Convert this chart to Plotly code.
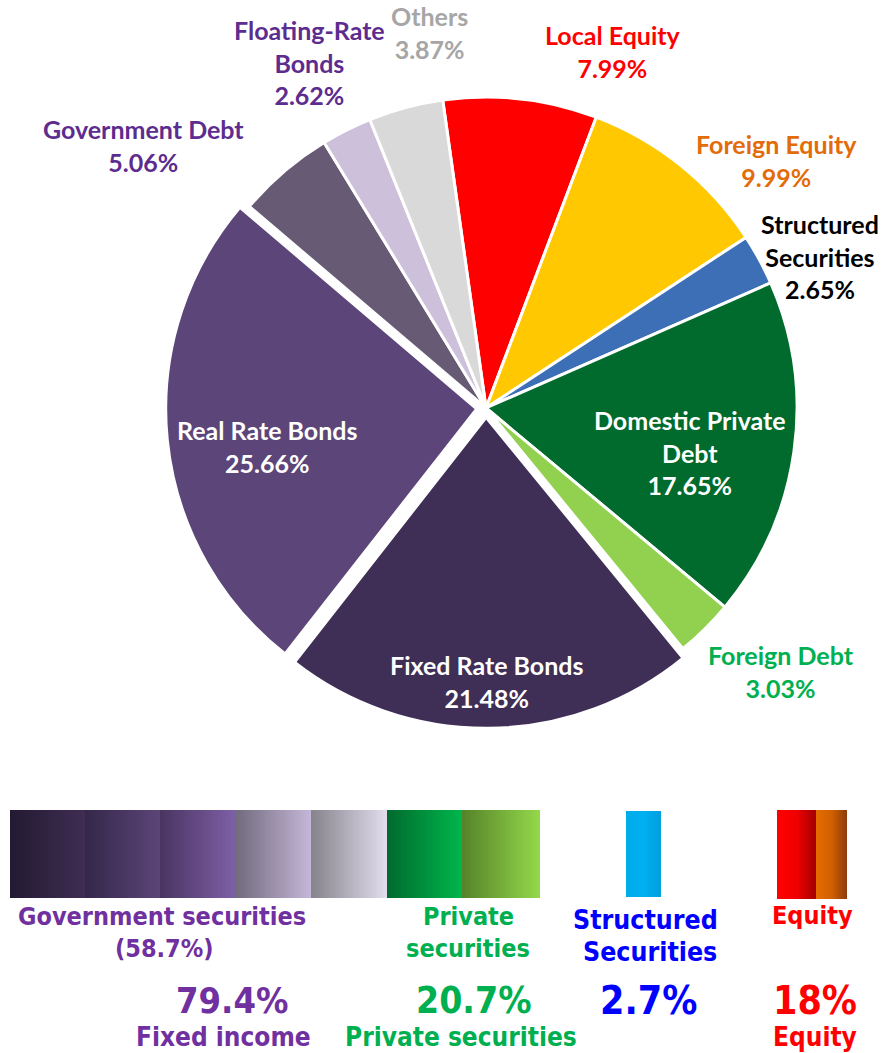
from decimal import Decimal, ROUND_HALF_UP

import numpy as np
import plotly.graph_objects as go

# Portfolio allocation by asset class (percent), clockwise from the top
labels = ["Local Equity", "Foreign Equity", "Structured Securities", "Domestic Private Debt",
          "Foreign Debt", "Fixed Rate Bonds", "Real Rate Bonds", "Government Debt",
          "Floating-Rate Bonds", "Others"]
values = [7.99, 9.99, 2.65, 17.65, 3.03, 21.48, 25.66, 5.06, 2.62, 3.87]

# Label text as drawn (line breaks) for each slice
label_lines = {
    "Local Equity": "Local Equity",
    "Foreign Equity": "Foreign Equity",
    "Structured Securities": "Structured<br>Securities",
    "Domestic Private Debt": "Domestic Private<br>Debt",
    "Foreign Debt": "Foreign Debt",
    "Fixed Rate Bonds": "Fixed Rate Bonds",
    "Real Rate Bonds": "Real Rate Bonds",
    "Government Debt": "Government Debt",
    "Floating-Rate Bonds": "Floating-Rate<br>Bonds",
    "Others": "Others",
}

# Asset-class groupings used for the summary block
groups = {
    "government": ["Fixed Rate Bonds", "Real Rate Bonds", "Government Debt", "Floating-Rate Bonds", "Others"],
    "private": ["Domestic Private Debt", "Foreign Debt"],
    "structured": ["Structured Securities"],
    "equity": ["Local Equity", "Foreign Equity"],
}

W, H = 883, 1053

slice_colors = ["#ff0000", "#ffc800", "#3d6fb6", "#006b2d", "#92d050",
                "#3f2e55", "#5c4679", "#675a74", "#ccc0da", "#d9d9d9"]
pulls = [0, 0, 0, 0, 0, 0.03, 0.03, 0, 0, 0]

LABEL_PURPLE = "#5c2d8f"
# Label placement (pixel centre of first line) and colour for each slice
label_style = {
    "Local Equity": (613, 35, "#ff0000"),
    "Foreign Equity": (776, 143, "#e36c0a"),
    "Structured Securities": (820, 223, "#000000"),
    "Domestic Private Debt": (690, 419, "#ffffff"),
    "Foreign Debt": (781, 654, "#00b050"),
    "Fixed Rate Bonds": (487, 664, "#ffffff"),
    "Real Rate Bonds": (267, 429, "#ffffff"),
    "Government Debt": (143, 129, LABEL_PURPLE),
    "Floating-Rate Bonds": (309, 29, LABEL_PURPLE),
    "Others": (429, 15, "#a6a6a6"),
}

cx, cy, r = 486, 408, 311
half = r * (1 + max(pulls))

fig = go.Figure()
fig.add_trace(go.Pie(
    labels=labels, values=values, sort=False, direction="clockwise", rotation=-8,
    pull=pulls, textinfo="none", hoverinfo="label+percent",
    marker=dict(colors=slice_colors, line=dict(color="white", width=3)),
    domain=dict(x=[(cx - half) / W, (cx + half) / W],
                y=[1 - (cy + half) / H, 1 - (cy - half) / H]),
    showlegend=False,
))

LINE = 33
pie_font = "Lato, 'Open Sans', sans-serif"
for name, val in zip(labels, values):
    x, y, col = label_style[name]
    txt = f"<b>{label_lines[name]}<br>{val:.2f}%</b>"
    fig.add_annotation(x=x / W, y=1 - (y - LINE / 2) / H, xref="paper", yref="paper",
                       text=txt, showarrow=False, xanchor="center", yanchor="top",
                       font=dict(family=pie_font, size=25, color=col), align="center")

# Gradient strips of the summary block: (x0, x1, y0, y1, colour stops)
strips = [
    (10, 85, 810, 898, ["#231a33", "#3f2d52"]),
    (85, 160, 810, 898, ["#35274b", "#5b4577"]),
    (160, 236, 810, 898, ["#4a3562", "#7e5fa6"]),
    (236, 311, 810, 898, ["#726c7e", "#c4b6d8"]),
    (311, 387, 810, 898, ["#86848c", "#e2dced"]),
    (387, 462, 810, 898, ["#006b2e", "#00b64b"]),
    (462, 540, 810, 898, ["#56832a", "#93d84a"]),
    (626, 661, 811, 897, ["#00abeb", "#00b0f0", "#009fdf"]),
    (777, 816, 810, 899, ["#ff0000", "#f00000", "#a30000"]),
    (816, 847, 810, 899, ["#e66c00", "#d06000", "#8e3d0b"]),
]
n = 60
for x0, x1, y0, y1, stops in strips:
    cs = [[i / (len(stops) - 1), c] for i, c in enumerate(stops)]
    fig.add_trace(go.Heatmap(
        x=np.linspace(x0, x1, n + 1), y=[y0, y1], z=[np.linspace(0, 1, n)],
        colorscale=cs, zmin=0, zmax=1, showscale=False, hoverinfo="skip",
    ))

fig.update_xaxes(range=[0, W], visible=False, domain=[0, 1], fixedrange=True)
fig.update_yaxes(range=[H, 0], visible=False, domain=[0, 1], fixedrange=True)


def group_total(key):
    return sum(Decimal(str(v)) for l, v in zip(labels, values) if l in groups[key])


def pct(d, places="0.1"):
    return f"{d.quantize(Decimal(places), rounding=ROUND_HALF_UP)}%"


gov = group_total("government").quantize(Decimal("0.1"), rounding=ROUND_HALF_UP)
priv = group_total("private").quantize(Decimal("0.1"), rounding=ROUND_HALF_UP)
struct = group_total("structured")
equity = group_total("equity")
fixed_income = gov + priv

PURPLE, GREEN, BLUE, RED = "#7030a0", "#00b050", "#0000ff", "#ff0000"
sum_font = "'DejaVu Sans Condensed', 'DejaVu Sans', sans-serif"


def txt(x, y, s, col, size):
    fig.add_annotation(x=x / W, y=1 - y / H, xref="paper", yref="paper", text=f"<b>{s}</b>",
                       showarrow=False, xanchor="center", yanchor="middle",
                       font=dict(family=sum_font, size=size, color=col))


txt(162, 916, "Government securities", PURPLE, 25)
txt(164, 948, f"({pct(gov)})", PURPLE, 25)
txt(468, 916, "Private", GREEN, 25)
txt(468, 948, "securities", GREEN, 25)
txt(645, 919, "Structured", BLUE, 26.5)
txt(650, 951, "Securities", BLUE, 26.5)
txt(812, 915, "Equity", RED, 25)
txt(232, 1000, pct(fixed_income), PURPLE, 36)
txt(473, 1000, pct(priv), GREEN, 37)
txt(648, 1000, pct(struct), BLUE, 39)
txt(815, 1000, pct(equity, "1"), RED, 39)
txt(223, 1037, "Fixed income", PURPLE, 26)
txt(461, 1037, "Private securities", GREEN, 26)
txt(815, 1037, "Equity", RED, 26)

fig.update_layout(width=W, height=H, margin=dict(l=0, r=0, t=0, b=0),
                  paper_bgcolor="white", plot_bgcolor="white")

fig.write_html("out.html")
